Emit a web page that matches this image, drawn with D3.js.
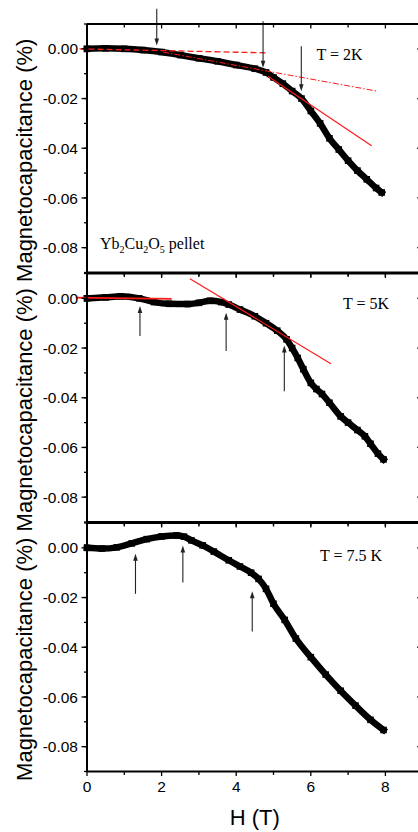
<!DOCTYPE html>
<html><head><meta charset="utf-8">
<script src="https://cdn.jsdelivr.net/npm/d3@7"></script>
<style>html,body{margin:0;padding:0;background:#fff;}svg{display:block;}</style>
</head><body>
<script>
// ---------- data ----------
const xTicks = [0, 2, 4, 6, 8];
const yTicks = [0, -0.02, -0.04, -0.06, -0.08];
const yTickLabels = ["0.00", "-0.02", "-0.04", "-0.06", "-0.08"];
const panelTitles = ["T = 2K", "T = 5K", "T = 7.5 K"];

// T = 2K
const field2K = [0, 0.5, 1.0, 1.5, 2.0, 2.5, 3.0, 3.5, 4.0, 4.5, 4.8, 5.0, 5.25, 5.5, 5.75, 6.0, 6.25, 6.5, 6.75, 7.0, 7.25, 7.5, 7.75, 7.9];
const mc2K = [0, 0.0002, 0.0, -0.0005, -0.0013, -0.0025, -0.0038, -0.0050, -0.0065, -0.0080, -0.0095, -0.0115, -0.0140, -0.0170, -0.0200, -0.0250, -0.0300, -0.0360, -0.0405, -0.0450, -0.0490, -0.0525, -0.0560, -0.0578];
// T = 5K
const field5K = [0, 0.5, 0.9, 1.4, 1.8, 2.2, 2.7, 3.0, 3.3, 3.6, 3.8, 4.1, 4.5, 4.8, 5.1, 5.35, 5.5, 5.65, 5.8, 6.0, 6.15, 6.3, 6.5, 6.8, 7.0, 7.25, 7.45, 7.6, 7.8, 7.95];
const mc5K = [0, 0.0004, 0.0008, 0.0, -0.0015, -0.0022, -0.0023, -0.0018, -0.0010, -0.0015, -0.0025, -0.0045, -0.0072, -0.0100, -0.0130, -0.0165, -0.0200, -0.0240, -0.0285, -0.0340, -0.0365, -0.0385, -0.0420, -0.0475, -0.0500, -0.0530, -0.0555, -0.0585, -0.0625, -0.0648];
// T = 7.5K
const field75K = [0, 0.4, 0.8, 1.2, 1.6, 2.0, 2.4, 2.6, 2.8, 3.1, 3.4, 3.8, 4.1, 4.4, 4.6, 4.8, 5.0, 5.3, 5.6, 6.0, 6.4, 6.8, 7.2, 7.6, 7.95];
const mc75K = [0, -0.0003, 0.0002, 0.0018, 0.0035, 0.0046, 0.0050, 0.0045, 0.0030, 0.0010, -0.0015, -0.0050, -0.0075, -0.0100, -0.0125, -0.0165, -0.0225, -0.0290, -0.0365, -0.0440, -0.0510, -0.0575, -0.0635, -0.0692, -0.0733];

// red guide lines: [H1, MC1, H2, MC2]
const fitDashed2K = [-0.2, 0.0, 4.8, -0.0016];
const fitDashDot2K = [2.04, -0.0013, 7.77, -0.0170];
const fitSolid2K = [4.85, -0.0110, 7.63, -0.0390];
const fitLow5K = [-0.3, 0.0003, 2.27, -0.0002];
const fitHigh5K = [2.76, 0.0079, 6.54, -0.0263];

// arrows: [H, tail MC, tip MC]
const arrows2K = [[1.87, 0.0161, 0.0013], [4.72, 0.0111, -0.0076], [5.745, 0.0010, -0.0171]];
const arrows5K = [[1.42, -0.0152, -0.0031], [3.73, -0.0212, -0.0058], [5.29, -0.0374, -0.0190]];
const arrows75K = [[1.30, -0.0185, -0.0024], [2.57, -0.0139, 0.0009], [4.43, -0.0337, -0.0175]];

// ---------- layout ----------
const W = 418, Hgt = 832;
const left = 87, right = 422.7;
const panelTop = [24, 273.5, 523];
const panelH = 248.5;

const svg = d3.select("body").append("svg").attr("width", W).attr("height", Hgt);
const x = d3.scaleLinear().domain([0, 9]).range([left, right]);

const panels = [
  {h: field2K, m: mc2K, arrows: arrows2K, fits: [[fitDashed2K, "6,3", 1.3], [fitDashDot2K, "6,2,1.5,2", 1], [fitSolid2K, null, 1.2]], title: panelTitles[0], tx: 316.5, ty: 59.5},
  {h: field5K, m: mc5K, arrows: arrows5K, fits: [[fitLow5K, null, 1.6], [fitHigh5K, null, 1.2]], title: panelTitles[1], tx: 343, ty: 309},
  {h: field75K, m: mc75K, arrows: arrows75K, fits: [], title: panelTitles[2], tx: 320, ty: 560.5}
];

panels.forEach((p, k) => {
  const top = panelTop[k], bot = top + panelH;
  const y = d3.scaleLinear().domain([-0.09, 0.01]).range([bot, top]);
  const g = svg.append("g");

  const clipId = "clip" + k;
  svg.append("clipPath").attr("id", clipId).append("rect").attr("x", 0).attr("y", top).attr("width", W).attr("height", panelH);

  // data curve
  const dg = g.append("g").attr("clip-path", `url(#${clipId})`);
  dg.append("path").datum(p.m)
    .attr("d", d3.line().curve(d3.curveMonotoneX).x((d, i) => x(p.h[i])).y(d => y(d)))
    .attr("fill", "none").attr("stroke", "#000").attr("stroke-width", 6.5).attr("stroke-linecap", "square");
  dg.selectAll("rect.pt").data(p.m).join("rect").attr("class", "pt")
    .attr("x", (d, i) => x(p.h[i]) - 3.3).attr("y", d => y(d) - 3.3).attr("width", 6.6).attr("height", 6.6).attr("fill", "#000");

  // fits
  p.fits.forEach(([f, dash, sw]) => {
    g.append("line").attr("x1", x(f[0])).attr("y1", y(f[1])).attr("x2", x(f[2])).attr("y2", y(f[3]))
      .attr("stroke", "#ff1a1a").attr("stroke-width", sw).attr("stroke-dasharray", dash);
  });

  // arrows
  p.arrows.forEach(a => {
    const ax = x(a[0]), y1 = y(a[1]), y2 = y(a[2]);
    const dir = y2 > y1 ? 1 : -1;
    g.append("line").attr("x1", ax).attr("x2", ax).attr("y1", y1).attr("y2", y2 - dir * 6)
      .attr("stroke", "#222").attr("stroke-width", 1.1);
    g.append("path").attr("d", `M${ax},${y2} L${ax - 2.3},${y2 - dir * 7} L${ax + 2.3},${y2 - dir * 7} Z`).attr("fill", "#222");
  });

  // axes
  const yMinor = d3.range(-0.09, 0.0101, 0.01).map(v => +v.toFixed(3));
  const xMinor = d3.range(0, 10, 1);
  const la = g.append("g").attr("transform", `translate(${left},0)`);
  la.selectAll("line.mi").data(yMinor).join("line").attr("x1", -3).attr("x2", 0).attr("y1", d => y(d)).attr("y2", d => y(d)).attr("stroke", "#000").attr("stroke-width", 1.3);
  la.selectAll("line.ma").data(yTicks).join("line").attr("x1", -5.5).attr("x2", 0).attr("y1", d => y(d)).attr("y2", d => y(d)).attr("stroke", "#000").attr("stroke-width", 1.3);
  la.selectAll("text").data(yTicks).join("text").attr("x", -9).attr("y", d => y(d)).attr("dy", "0.36em")
    .attr("text-anchor", "end").attr("font-family", "Liberation Sans, Arial, sans-serif").attr("font-size", 15.5).text((d, i) => yTickLabels[i]);
  const ra = g.append("g").attr("transform", `translate(${right},0)`);
  ra.selectAll("line.ma").data(yTicks).join("line").attr("x1", -5.5).attr("x2", 0).attr("y1", d => y(d)).attr("y2", d => y(d)).attr("stroke", "#000").attr("stroke-width", 1.3);
  ra.selectAll("line.mi").data(yMinor).join("line").attr("x1", -3).attr("x2", 0).attr("y1", d => y(d)).attr("y2", d => y(d)).attr("stroke", "#000").attr("stroke-width", 1.3);
  g.selectAll("line.tt").data(xMinor).join("line").attr("class", "tt").attr("x1", d => x(d)).attr("x2", d => x(d)).attr("y1", top).attr("y2", d => top + (d % 2 === 0 ? 4.5 : 3.5)).attr("stroke", "#000").attr("stroke-width", 1.3);
  g.selectAll("line.bt").data(xMinor).join("line").attr("class", "bt").attr("x1", d => x(d)).attr("x2", d => x(d)).attr("y1", bot).attr("y2", d => bot + (d % 2 === 0 ? 4.5 : 3.5)).attr("stroke", "#000").attr("stroke-width", 1.3);
  g.append("line").attr("x1", left).attr("x2", right).attr("y1", top).attr("y2", top).attr("stroke", "#000").attr("stroke-width", 2);
  g.append("line").attr("x1", left).attr("x2", right).attr("y1", bot).attr("y2", bot).attr("stroke", "#000").attr("stroke-width", 2);
  g.append("line").attr("x1", left).attr("x2", left).attr("y1", top).attr("y2", bot).attr("stroke", "#000").attr("stroke-width", 2);
  g.append("line").attr("x1", right).attr("x2", right).attr("y1", top).attr("y2", bot).attr("stroke", "#000").attr("stroke-width", 2);

  // title
  g.append("text").attr("x", p.tx).attr("y", p.ty).attr("font-family", "Liberation Serif, Times New Roman, serif").attr("font-size", 16).text(p.title);

  // y label
  svg.append("text").attr("transform", `translate(32,${(top + bot) / 2 + 12}) rotate(-90)`)
    .attr("text-anchor", "middle").attr("font-family", "Liberation Sans, Arial, sans-serif").attr("font-size", 22)
    .text("Magnetocapacitance (%)");

  if (k === 2) {
    svg.append("g").selectAll("text").data(xTicks).join("text").attr("x", d => x(d)).attr("y", 792)
      .attr("text-anchor", "middle").attr("font-family", "Liberation Sans, Arial, sans-serif").attr("font-size", 15.5).text(d => d);
    svg.append("text").attr("x", (left + right) / 2).attr("y", 825).attr("text-anchor", "middle")
      .attr("font-family", "Liberation Sans, Arial, sans-serif").attr("font-size", 22).text("H (T)");
  }
  if (k === 0) {
    const t = g.append("text").attr("x", 100).attr("y", 249).attr("font-family", "Liberation Serif, Times New Roman, serif").attr("font-size", 16);
    t.append("tspan").text("Yb");
    t.append("tspan").attr("font-size", 10).attr("dy", 4).text("2");
    t.append("tspan").attr("dy", -4).text("Cu");
    t.append("tspan").attr("font-size", 10).attr("dy", 4).text("2");
    t.append("tspan").attr("dy", -4).text("O");
    t.append("tspan").attr("font-size", 10).attr("dy", 4).text("5");
    t.append("tspan").attr("dy", -4).text(" pellet");
  }
});
</script>
</body></html>
